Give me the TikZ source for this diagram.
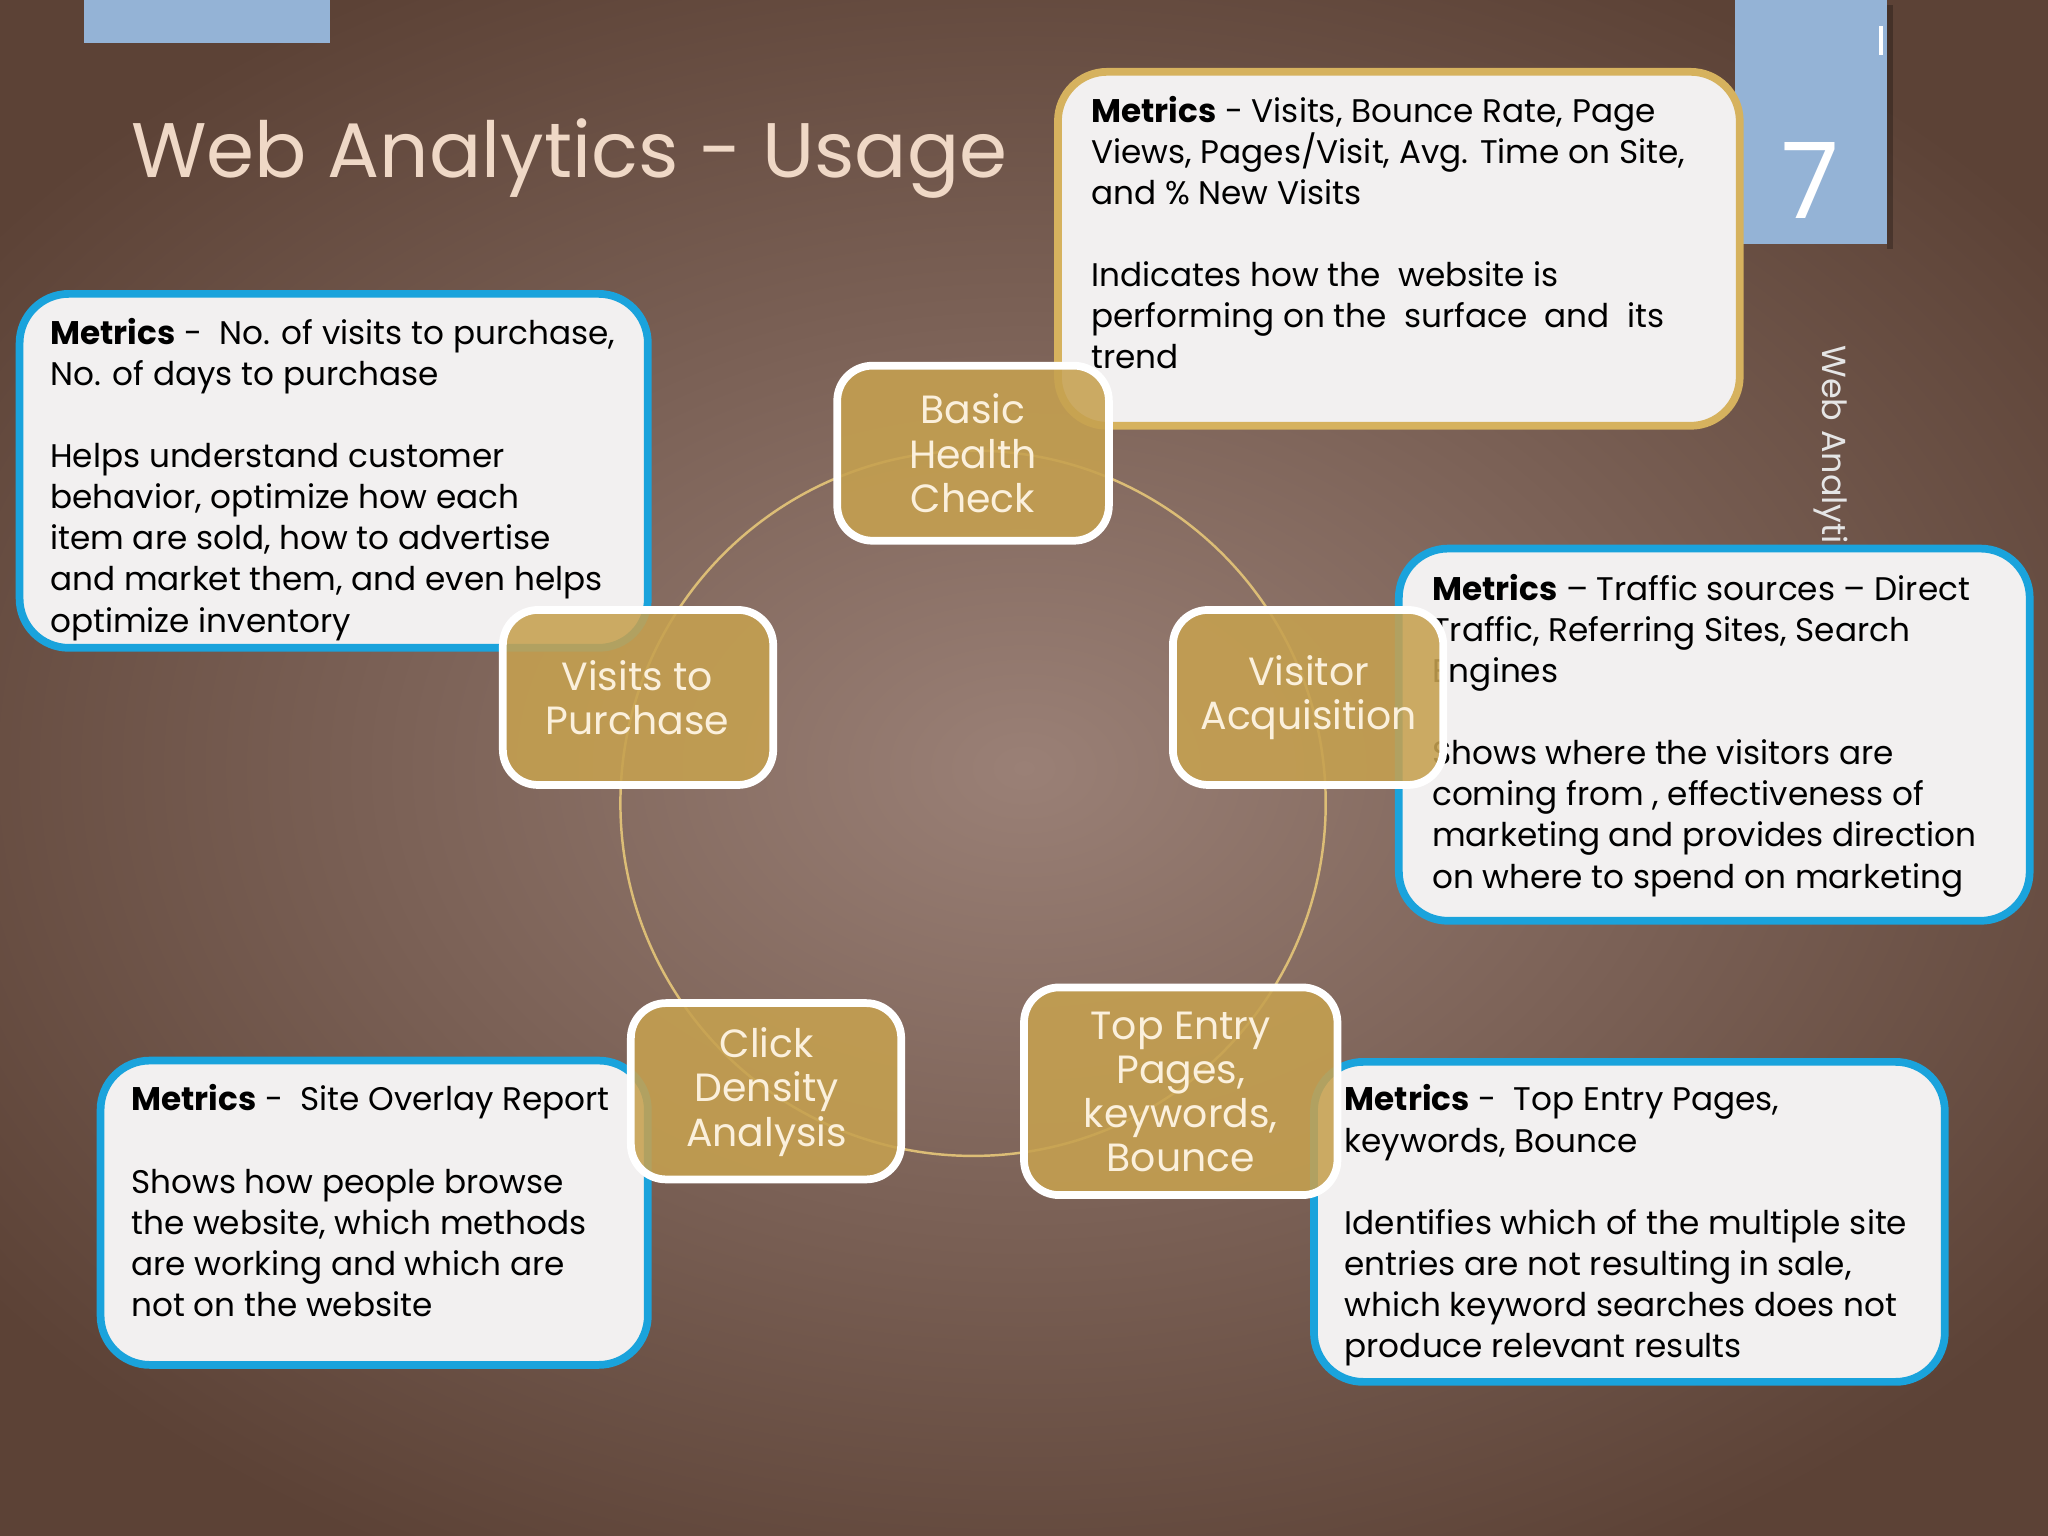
\documentclass[tikz,border=0pt]{standalone}
\usepackage{fontspec}
\setmainfont{Poppins}
\usetikzlibrary{shapes.geometric}
\definecolor{bgin}{HTML}{9A8076}
\definecolor{bgout}{HTML}{5C4236}
\definecolor{pblue}{HTML}{94B3D6}
\definecolor{gold}{HTML}{C6A150}
\definecolor{goldline}{HTML}{D6B25E}
\definecolor{cyanb}{HTML}{1AA3DC}
\definecolor{boxfill}{HTML}{F2F0F0}
\definecolor{titlec}{HTML}{EFD8C6}
\definecolor{goldtxt}{HTML}{FBF0DC}
\tikzset{
 tbox/.style={draw=cyanb,line width=2.2pt,fill=boxfill,rounded corners=14pt},
 gbox/.style={draw=white,line width=2.2pt,fill=gold,fill opacity=0.88,rounded corners=10pt},
 gtext/.style={text=goldtxt,font=\fontsize{11.2}{12.6}\selectfont,align=center},
 btext/.style={anchor=north west,inner sep=0pt,align=left,text=black,font=\fontsize{9.3}{11.7}\selectfont}
}
\begin{document}
\begin{tikzpicture}[x=0.013061cm,y=-0.013061cm]
\useasboundingbox (0,0) rectangle (1568,1176);
\shade[inner color=bgin,outer color=bgout] (-200,-100) rectangle (1768,1276);
\fill[bgout!60!black,opacity=0.0] (0,0) rectangle (1568,1176);
\fill[pblue] (64,0) rectangle (253,33);
\fill[pblue] (1328,0) rectangle (1445,187);
\fill[black,opacity=0.25] (1445,4) rectangle (1449,191);
\node[text=white,font=\fontsize{30}{30}\selectfont] (num) at (1386,138) {7};
\draw[white,line width=1pt] (1440,20) -- (1440,42);
\node[anchor=base west,inner sep=0pt,text=titlec,font=\fontsize{22}{24}\selectfont] (title) at (100,136) {Web Analytics - Usage};
\node[rotate=-90,anchor=west,inner sep=0pt,text=white!80!gray,font=\fontsize{9.5}{10}\selectfont] (side) at (1402,264) {Web Analytics};
% circle
\coordinate (c) at (745,615);
\draw[goldline!85!white,line width=0.7pt] (c) circle[radius=270];
% text boxes
\draw[tbox,draw=goldline] (810,55) rectangle (1332,326);
\draw[tbox] (15,225) rectangle (496,496);
\draw[tbox] (1071,420) rectangle (1554,705);
\draw[tbox] (77,812) rectangle (496,1045);
\draw[tbox] (1006,813) rectangle (1489,1058);
\node[btext] (t1) at (835,73) {\textbf{Metrics} - Visits, Bounce Rate, Page\\Views, Pages/Visit, Avg. Time on Site,\\and \% New Visits\\[11.7pt]Indicates how the\ \ website is\\performing on the\ \ surface\ \ and\ \ its\\trend};
\node[btext] (t2) at (38,243) {\textbf{Metrics} -\ \ No. of visits to purchase,\\No. of days to purchase\\[11.7pt]Helps understand customer\\behavior, optimize how each\\item are sold, how to advertise\\and market them, and even helps\\optimize inventory};
\node[btext] (t3) at (1096,439) {\textbf{Metrics} -- Traffic sources -- Direct\\Traffic, Referring Sites, Search\\Engines\\[11.7pt]Shows where the visitors are\\coming from , effectiveness of\\marketing and provides direction\\on where to spend on marketing};
\node[btext] (t4) at (100,830) {\textbf{Metrics} -\ \ Site Overlay Report\\[11.7pt]Shows how people browse\\the website, which methods\\are working and which are\\not on the website};
\node[btext] (t5) at (1029,830) {\textbf{Metrics} -\ \ Top Entry Pages,\\keywords, Bounce\\[11.7pt]Identifies which of the multiple site\\entries are not resulting in sale,\\which keyword searches does not\\produce relevant results};
% gold boxes
\draw[gbox] (641,280) rectangle (849,414);
\node[gtext] (n1) at (745,347) {Basic\\Health\\Check};
\draw[gbox] (898,467) rectangle (1105,601);
\node[gtext] (n2) at (1002,534) {Visitor\\Acquisition};
\draw[gbox] (385,467) rectangle (592,601);
\node[gtext] (n5) at (488,534) {Visits to\\Purchase};
\draw[gbox] (483,768) rectangle (690,903);
\node[gtext] (n4) at (587,836) {Click\\Density\\Analysis};
\draw[gbox] (784,756) rectangle (1024,915);
\node[gtext] (n3) at (904,836) {Top Entry\\Pages,\\keywords,\\Bounce};
\end{tikzpicture}
\end{document}
